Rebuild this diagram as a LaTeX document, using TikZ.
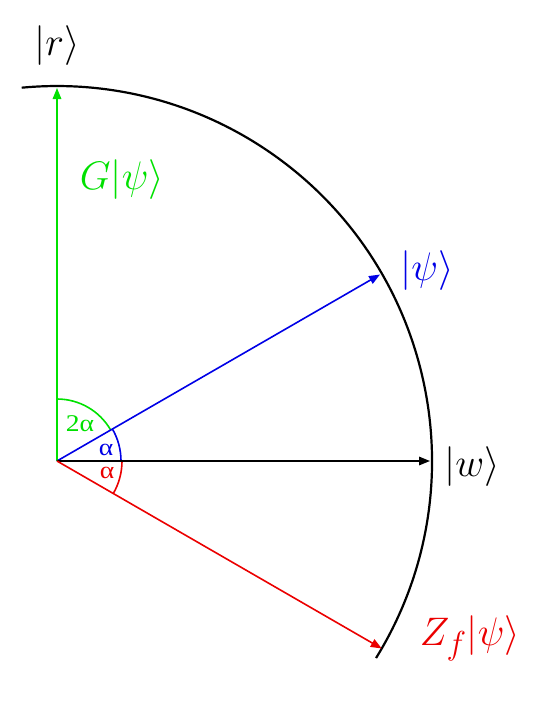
\documentclass[tikz,border=0pt]{standalone}
\usepackage{fontspec}
\usepackage{amsmath}
\usetikzlibrary{arrows.meta,calc}
\newfontfamily\greekf{Liberation Serif}
\definecolor{vgreen}{RGB}{0,225,0}
\definecolor{vblue}{RGB}{0,0,230}
\definecolor{vred}{RGB}{235,0,0}
\newcommand{\bigket}[1]{\scalebox{1.6}{\fontsize{24.88}{30}\selectfont$#1$}}
\newcommand{\anglabtext}[1]{\scalebox{1.15}[1]{\fontsize{24}{28}\selectfont\greekf #1}}
\tikzset{
  vec/.style={line width=1.6pt,-{Triangle[length=11pt,width=8.5pt]}},
  ket/.style={inner sep=0pt},
  anglab/.style={inner sep=0pt},
  angarc/.style={line width=1.6pt}
}
\begin{document}
\begin{tikzpicture}[x=1pt,y=1pt]
\useasboundingbox (0,0) rectangle (555,-702);
\begin{scope}[shift={(57,-461)}]
\coordinate (O) at (0,0);
\coordinate (R) at (90:373);
\coordinate (P) at (30:373);
\coordinate (W) at (0:373);
\coordinate (Z) at (-30:375);
\coordinate (A0) at (-31.7:375);
% big arc
\draw[line width=2.2pt] (A0) arc[start angle=-31.7,end angle=95.4,radius=375];
% angle arcs
\draw[angarc,vgreen] (90:62) arc[start angle=90,end angle=30,radius=62];
\draw[angarc,vblue] (30:64) arc[start angle=30,end angle=0,radius=64];
\draw[angarc,vred] (0:65) arc[start angle=0,end angle=-30,radius=65];
% vectors
\draw[vec,vgreen] (O) -- (R);
\draw[vec,vblue] (O) -- (P);
\draw[vec,black] (O) -- (W);
\draw[vec,vred] (O) -- (Z);
% angle labels
\node[anglab,vgreen] (l2a) at (23,37) {\anglabtext{2α}};
\node[anglab,vblue] (la1) at (49,11) {\anglabtext{α}};
\node[anglab,vred] (la2) at (50,-12) {\anglabtext{α}};
\end{scope}
% ket labels
\node[ket] (lr) at (57,-46) {\bigket{|r\rangle}};
\node[ket,vgreen] (lg) at (122,-180) {\bigket{G|\psi\rangle}};
\node[ket,vblue] (lp) at (427,-271) {\bigket{|\psi\rangle}};
\node[ket] (lw) at (472,-467) {\bigket{|w\rangle}};
\node[ket,vred] (lz) at (470,-638) {\bigket{Z_f|\psi\rangle}};
\end{tikzpicture}
\end{document}
